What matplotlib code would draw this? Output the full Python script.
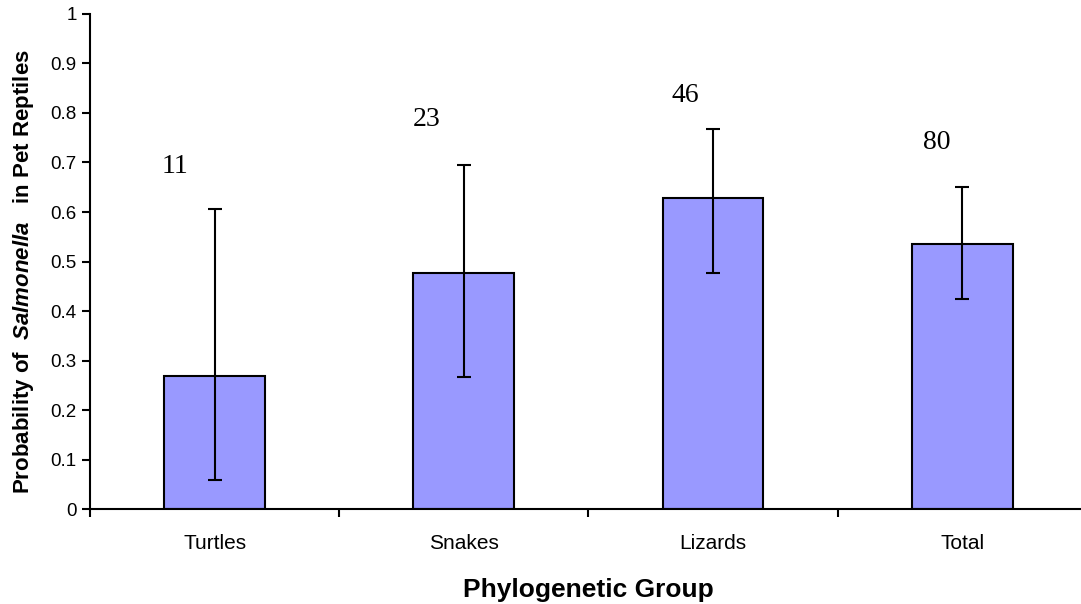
import matplotlib
matplotlib.use('Agg')
import matplotlib.pyplot as plt
import numpy as np

plt.rcParams['font.family'] = 'Liberation Sans'
plt.rcParams['mathtext.fontset'] = 'custom'
plt.rcParams['mathtext.bfit'] = 'Liberation Sans:italic:bold'

# data
groups = ['Turtles', 'Snakes', 'Lizards', 'Total']
prob = [0.268, 0.477, 0.628, 0.535]
lower = [0.059, 0.267, 0.477, 0.424]
upper = [0.607, 0.695, 0.767, 0.651]
counts = ['11', '23', '46', '80']
count_y = [0.692, 0.787, 0.835, 0.741]
count_dx = [-0.16, -0.15, -0.11, -0.10]

x = np.arange(len(groups))
err = [np.array(prob) - np.array(lower), np.array(upper) - np.array(prob)]

fig = plt.figure(figsize=(10.81, 6.04), dpi=100)
ax = fig.add_axes([0.0833, 0.157, 0.922, 0.820])

ax.bar(x, prob, width=0.405, color='#9999FF', edgecolor='black', linewidth=1.5,
       yerr=err, error_kw=dict(ecolor='black', elinewidth=1.5, capsize=5, capthick=1.5))

for xi, dx, yy, c in zip(x, count_dx, count_y, counts):
    ax.text(xi + dx, yy, c, ha='center', va='center', fontsize=20, family='Liberation Serif')

ax.set_xlim(-0.5, len(groups) - 0.5)
ax.set_ylim(0, 1)
ax.set_yticks(np.arange(0, 1.01, 0.1))
ax.set_yticklabels(['0', '0.1', '0.2', '0.3', '0.4', '0.5', '0.6', '0.7', '0.8', '0.9', '1'])
ax.set_xticks(x)
ax.set_xticklabels(groups, fontsize=15)
ax.set_xticks(np.arange(-0.5, len(groups), 1.0), minor=True)
ax.tick_params(axis='x', which='major', length=0, pad=18)
ax.tick_params(axis='x', which='minor', length=6, width=1.5, direction='out')
ax.tick_params(axis='y', length=6, width=1.5, direction='out', labelsize=13.5)

for s in ['top', 'right']:
    ax.spines[s].set_visible(False)
for s in ['left', 'bottom']:
    ax.spines[s].set_linewidth(1.5)

ax.set_ylabel(r'Probability of  $\mathbfit{Salmonella}$   in Pet Reptiles', fontsize=16,
              fontweight='bold')
ax.yaxis.set_label_coords(-0.054, 0.479)
ax.set_xlabel('Phylogenetic Group', fontsize=19, fontweight='bold', labelpad=18)

fig.savefig('out.png', dpi=100)
